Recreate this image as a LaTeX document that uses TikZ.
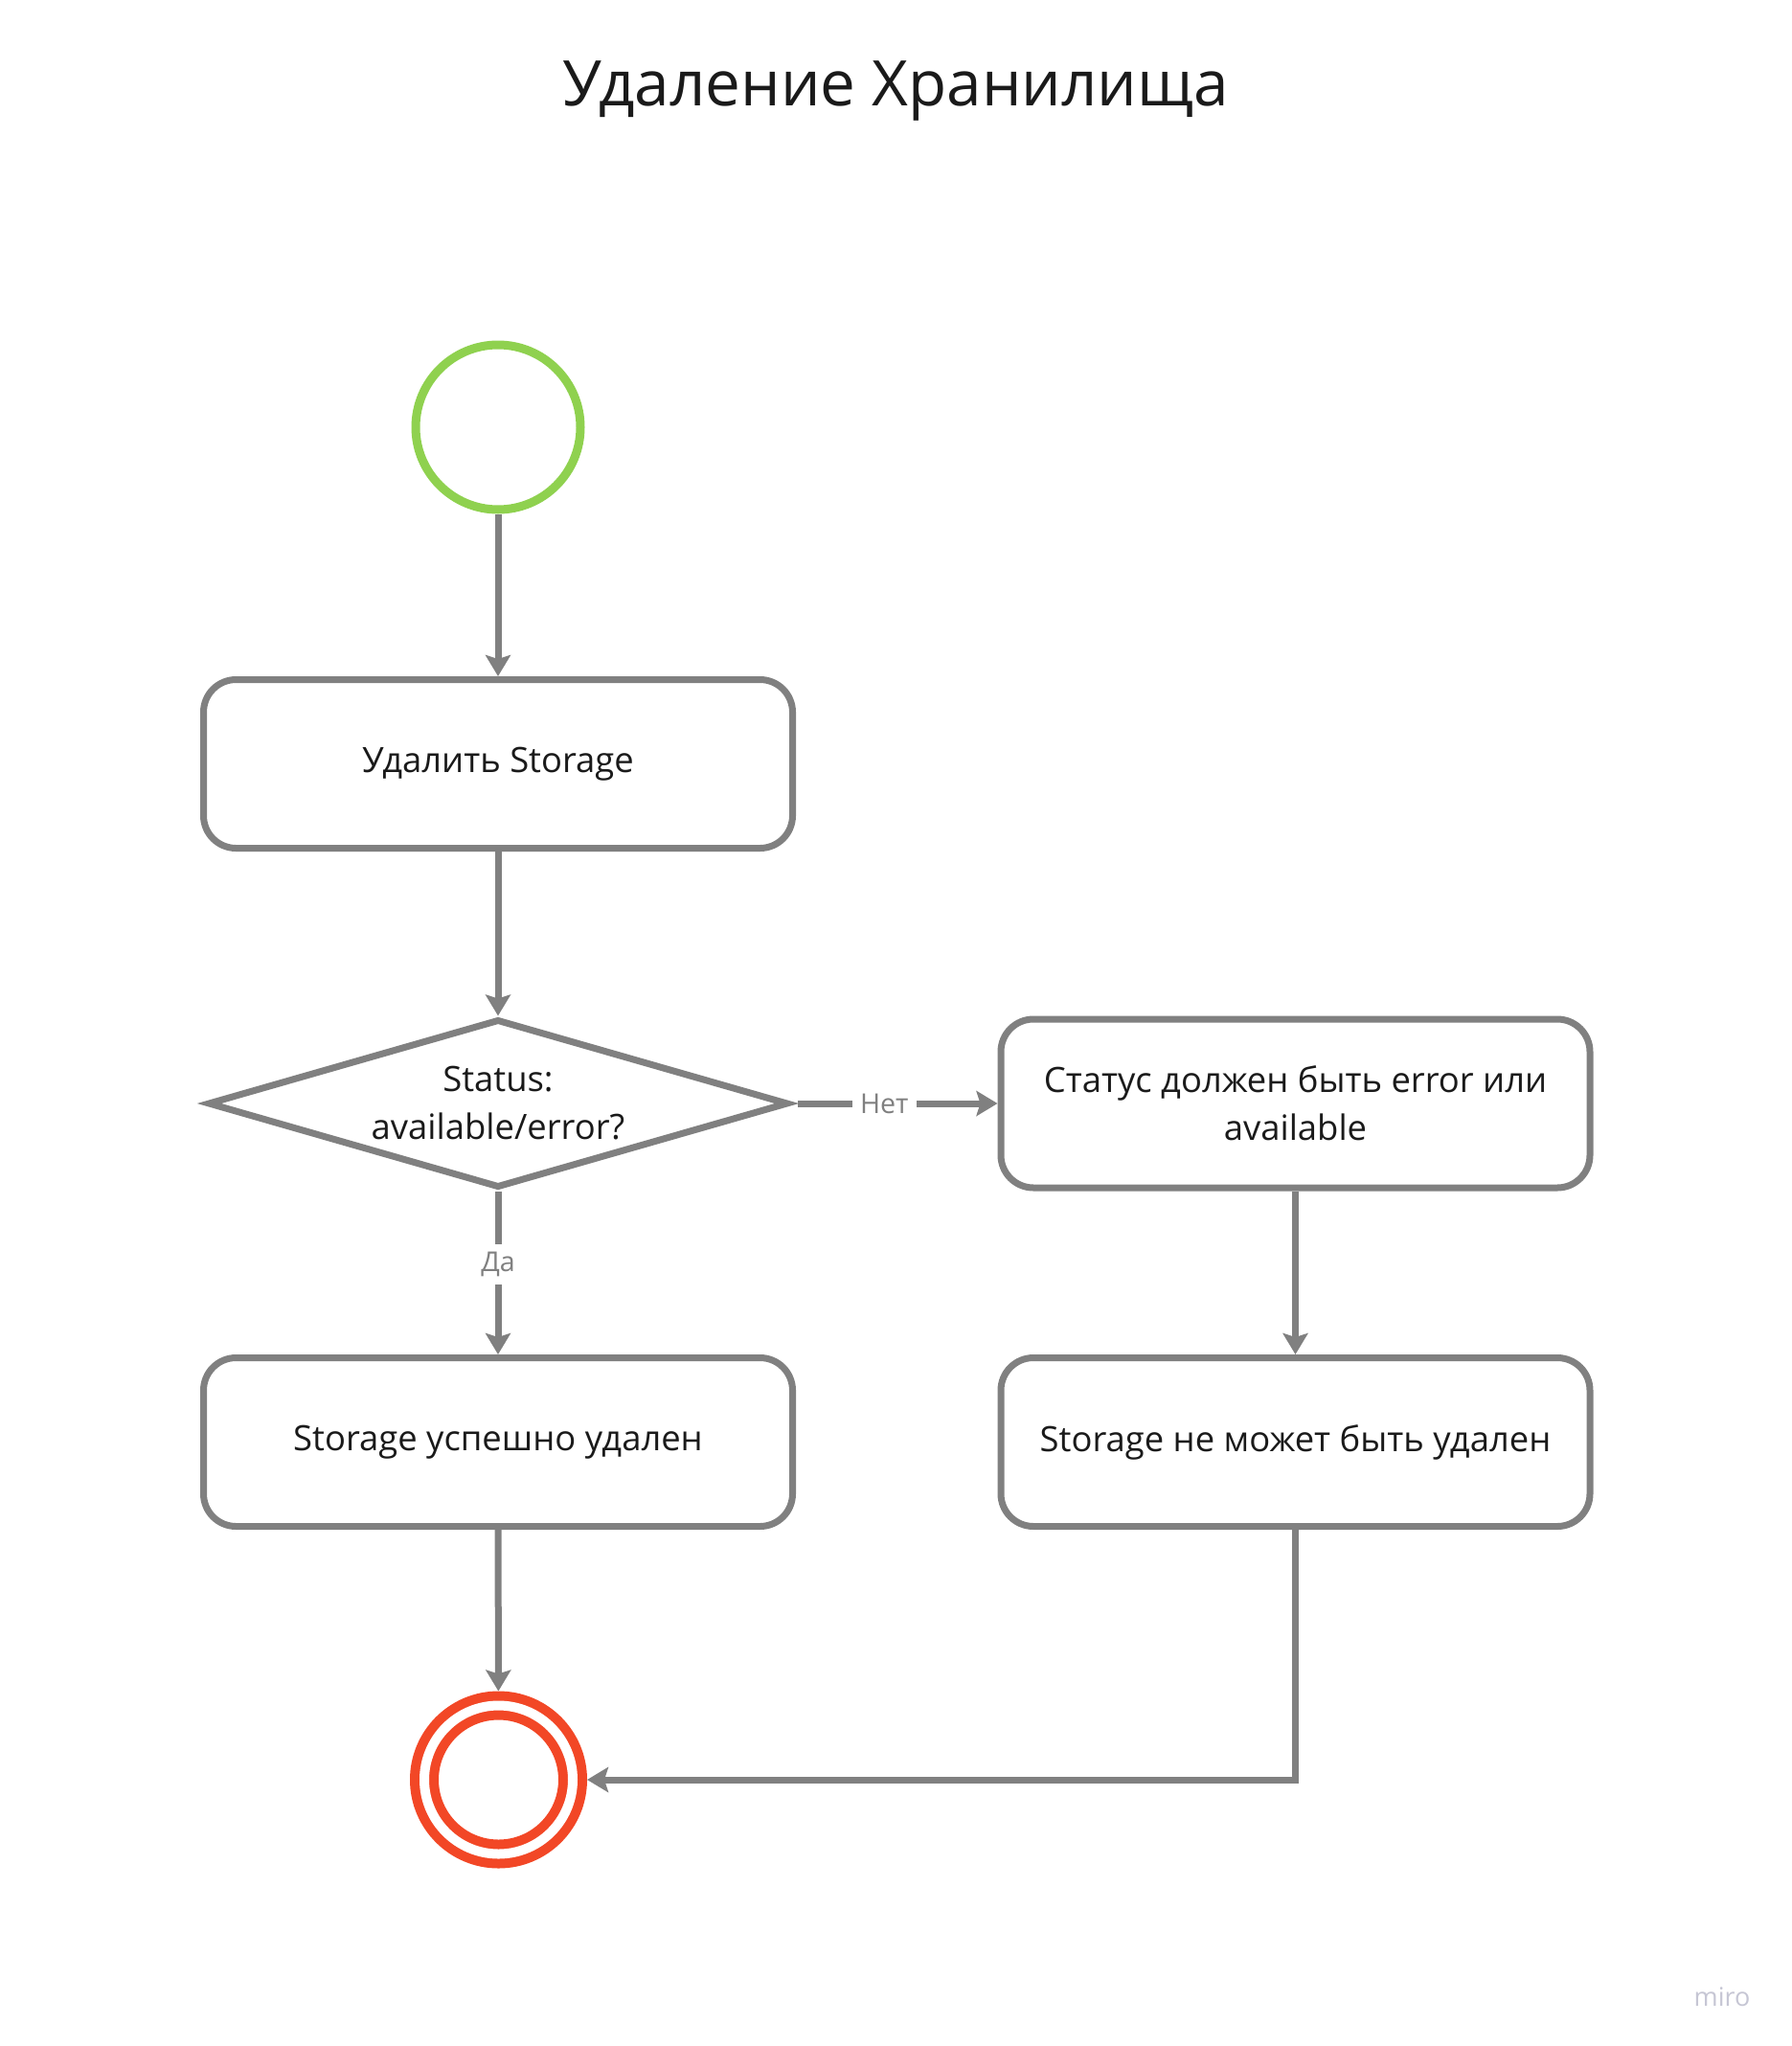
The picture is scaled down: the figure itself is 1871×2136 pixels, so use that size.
\documentclass[tikz,border=0pt]{standalone}
\usepackage{fontspec}
\setmainfont{Open Sans}
\usetikzlibrary{arrows.meta,shapes.geometric}
\definecolor{linegray}{HTML}{808080}
\definecolor{startgreen}{HTML}{8FD14F}
\definecolor{endred}{HTML}{F24726}
\definecolor{textblack}{HTML}{1A1A1A}
\definecolor{logogray}{HTML}{C6C6D4}

\begin{document}
\begin{tikzpicture}[x=0.5pt, y=-0.5pt,
    >={Stealth[length=11pt, width=13pt, inset=2pt]},
    flow/.style={draw=linegray, line width=3.5pt, ->},
    action/.style={draw=linegray, line width=3.5pt, rounded corners=17pt,
        minimum width=307.5pt, minimum height=88pt, align=center,
        text=textblack, font=\fontsize{18.2}{25}\selectfont},
    decision/.style={diamond, draw=linegray, line width=3.5pt, aspect=3.45,
        minimum width=303pt, minimum height=88pt, inner sep=0pt, align=center,
        text=textblack, font=\fontsize{18.2}{25}\selectfont},
    startstate/.style={circle, draw=startgreen, line width=4.5pt,
        minimum size=86pt, inner sep=0pt},
    endstate/.style={circle, draw=endred, line width=5pt, double=white,
        double distance=5pt, minimum size=77.5pt, inner sep=0pt, outer sep=7.5pt},
    guard/.style={fill=white, text=linegray, inner sep=4pt,
        font=\fontsize{14.3}{16}\selectfont}]
    \useasboundingbox (0,0) rectangle (1871,2136);

    % Title
    \node[anchor=base, text=textblack, font=\fontsize{32.8}{38}\selectfont] (title) at (935,110) {Удаление Хранилища};

    % States and actions
    \node[startstate] (start) at (520,446) {};
    \node[action] (delete) at (520,797.5) {Удалить Storage};
    \node[decision] (check) at (520,1152) {Status:\\available/error?};
    \node[action] (mustbe) at (1352.5,1152) {Статус должен быть error или\\available};
    \node[action] (deleted) at (520,1505.5) {Storage успешно удален};
    \node[action] (cannot) at (1352.5,1505.5) {Storage не может быть удален};
    \node[endstate] (finish) at (520.5,1858) {};

    % Connectors
    \draw[flow] (start) -- (delete);
    \draw[flow] (delete) -- (check);
    \draw[flow, shorten <=3pt] (check.east) -- node[guard, pos=0.45] (no) {Нет} (mustbe.west);
    \draw[flow] (check.south) -- node[guard, pos=0.45] (yes) {Да} (deleted.north);
    \draw[flow] (mustbe) -- (cannot);
    \draw[flow] (deleted) -- (finish);
    \draw[flow] (cannot.south) |- (finish.east);

    % Watermark
    \node[text=logogray, font=\fontsize{13.5}{15}\selectfont] (logo) at (1798,2085) {miro};
\end{tikzpicture}
\end{document}
